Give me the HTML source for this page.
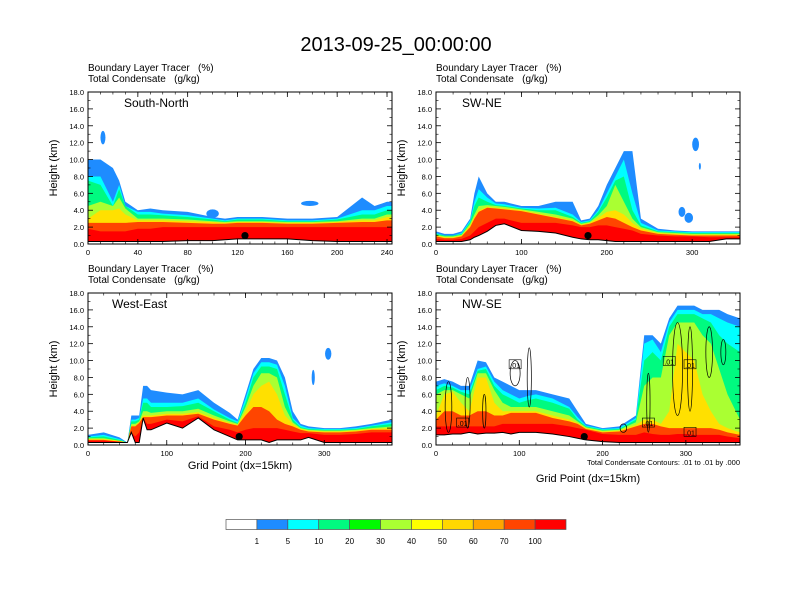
<!DOCTYPE html>
<html><head><meta charset="utf-8"><style>
body{margin:0;background:#fff;}
svg{display:block;font-family:"Liberation Sans",sans-serif;}
</style></head><body>
<svg id="fig" width="792" height="612" viewBox="0 0 792 612" xmlns="http://www.w3.org/2000/svg">
<text x="396" y="51" font-size="20" text-anchor="middle">2013-09-25_00:00:00</text>
</svg>
<script>
// ---- data (grid point, height km) ----
const levels=[1,5,10,30,50,70,100];
const levelColors=["#1E8CFF","#00FFFF","#00FA80","#AAFF32","#FFE000","#FF4500","#FF0000"];
const cbLabels=["1","5","10","20","30","40","50","60","70","100"];
const cbColors=["#FFFFFF","#1E8CFF","#00FFFF","#00FA80","#00FA00","#AAFF32","#FFFF00","#FFD700","#FFA500","#FF4500","#FF0000"];

const sn_x=[0,10,20,25,30,40,50,60,80,100,110,120,140,160,180,200,220,230,240,244];
const sn_ter=[0.3,0.3,0.3,0.3,0.3,0.3,0.3,0.3,0.4,0.4,0.5,0.6,0.6,0.6,0.4,0.3,0.3,0.3,0.3,0.3];
const sn_t1=[10,10,9,7.5,5,4,4.2,4,3.8,3.2,3,3.2,3.2,3,3,3.2,5.5,4.5,5,5];
const sn_t5=[8,8,5,7,4.5,3.8,3.8,3.6,3.4,3,2.8,3,3,2.8,2.8,3,4,4,4.5,4.5];
const sn_t10=[7.5,7,4.5,6.5,4.5,3.5,3.5,3.4,3.2,2.9,2.7,2.9,2.9,2.7,2.7,2.9,3.5,3.5,4,4];
const sn_t30=[4.5,5,4.5,5.5,4.2,3,3,3,2.9,2.7,2.6,2.7,2.7,2.6,2.6,2.7,3,3,3.5,3.5];
const sn_t50=[3,4,4,4.2,3.5,2.8,2.8,2.8,2.7,2.6,2.5,2.6,2.6,2.5,2.5,2.6,2.8,2.8,3.2,3.2];
const sn_t70=[2.5,2.5,2.5,2.5,2.5,2.6,2.6,2.6,2.5,2.4,2.4,2.5,2.5,2.4,2.4,2.5,2.6,2.6,2.8,2.8];
const sn_t100=[1.8,1.5,1.5,1.5,1.5,1.8,1.8,2,2,2,2,2,2,2,2,2,2,2,2,2];
const sn_blobX=[12,100,178], sn_blobY=[12.6,3.6,4.8], sn_blobRX=[2,5,7], sn_blobRY=[0.8,0.5,0.3];

const sw_x=[0,10,20,30,40,45,50,60,70,80,100,120,140,160,170,180,190,200,210,220,230,240,260,280,300,320,340,356];
const sw_ter=[0.3,0.3,0.3,0.3,0.5,0.8,1,1.5,2.2,2.4,1.6,1.5,1.3,0.8,0.6,0.5,0.5,0.4,0.3,0.3,0.3,0.3,0.3,0.3,0.3,0.3,0.6,0.6];
const sw_t1=[1.5,1.2,1.2,1.5,3,6,8,6,5,5,4.5,4.5,5,5,2.8,3,4.5,7,9,11,11,3,1.8,1.6,1.5,1.5,1.5,1.5];
const sw_t5=[1.3,1,1,1.3,2.8,5,6.5,5.5,4.8,4.7,4.3,4.2,4.3,3.5,2.6,2.8,4,6,8,10,6,2.5,1.6,1.5,1.4,1.4,1.4,1.4];
const sw_t10=[1.2,1,1,1.2,2.6,4.5,5.5,5,4.6,4.5,4.2,4,4,3.2,2.5,2.7,3.8,5.5,7.5,8,4,2.2,1.5,1.4,1.3,1.3,1.3,1.3];
const sw_t30=[1.1,0.9,0.9,1.1,2.4,3.5,4.5,4.6,4.5,4.4,4.1,3.8,3.5,3,2.4,2.6,3.4,4.5,7,5,3,2,1.4,1.3,1.2,1.2,1.2,1.2];
const sw_t50=[1,0.8,0.8,1,2.2,3.2,4,4.4,4.3,4.2,4,3.6,3.2,2.8,2.3,2.5,3.1,3.8,4,3.5,2.5,1.8,1.3,1.2,1.1,1.1,1.1,1.1];
const sw_t70=[0.9,0.7,0.7,0.9,2,3,3.8,4.3,4.2,4.1,3.9,3.5,3.1,2.7,2.2,2.4,2.8,3.2,3,2.5,2,1.6,1.2,1.1,1,1,1,1];
const sw_t100=[0.6,0.5,0.5,0.6,1,1.5,2,2.5,3,3,2.5,2.5,2.5,2.2,2,2,2.2,2.2,2,1.8,1.6,1.2,1,0.9,0.9,0.8,0.8,0.8];
const sw_blobX=[304,309,288,296], sw_blobY=[11.8,9.2,3.8,3.1], sw_blobRX=[4,1.2,4,5], sw_blobRY=[0.8,0.4,0.6,0.6];

const we_x=[0,20,40,50,55,60,65,70,75,80,100,120,140,160,180,190,200,210,220,230,240,250,260,270,280,300,320,340,360,386];
const we_ter=[0.3,0.3,0.3,0.3,1.5,0.3,0.3,3.2,1.8,1.8,2.6,2,3.2,1.8,1,0.6,0.6,0.6,0.6,0.3,0.6,0.6,0.6,0.6,0.9,0.3,0.3,0.3,0.3,0.3];
const we_t1=[1.2,1.5,0.9,0.3,3.5,3.5,3.5,7,7,6.5,6.2,6,6.5,5,3.8,3,6,9,10.3,10.3,10,8,4,2.5,2.2,2,2,2.2,2.5,3];
const we_t5=[1,1.2,0.7,0.3,3,3,3.2,5.5,5.5,5,5,5,5.5,4.2,3.2,2.8,5.5,8.5,9.8,9.8,9.5,7,3.2,2.3,2,1.9,1.9,2,2.3,2.7];
const we_t10=[0.9,1,0.6,0.3,2.8,2.8,3,5,5,4.5,4.5,4.6,5,4,3,2.6,5,8,9.3,9.3,9,6,3,2.1,1.9,1.8,1.8,1.9,2.2,2.5];
const we_t30=[0.8,0.8,0.5,0.3,2.5,2.5,2.8,4,4,3.8,4,4,4.3,3.5,2.8,2.5,4.5,7,8.5,8.5,8,4.5,2.7,2,1.8,1.7,1.7,1.8,2,2.2];
const we_t50=[0.7,0.7,0.5,0.3,2.3,2.3,2.7,3.5,3.5,3.5,3.7,3.7,3.9,3.2,2.6,2.4,4,6,7,7.5,6,3.5,2.5,1.9,1.7,1.6,1.6,1.7,1.9,2];
const we_t70=[0.6,0.6,0.4,0.3,2.2,2.2,2.6,3.3,3.3,3.3,3.5,3.5,3.7,3,2.5,2.3,3.5,4.5,4.5,4,3,2.5,2.2,1.8,1.6,1.5,1.5,1.6,1.8,1.8];
const we_t100=[0.5,0.5,0.4,0.3,1.5,1,1.5,3.2,2.5,2.5,3,2.8,3.4,2.2,1.8,1.5,1.8,2,2,2,2,1.8,1.6,1.4,1.4,1.2,1.2,1.3,1.5,1.5];
const we_blobX=[305,286], we_blobY=[10.8,8], we_blobRX=[4,2], we_blobRY=[0.7,0.9];

const ns_x=[0,10,20,30,40,50,60,70,80,90,100,110,120,140,160,170,180,200,220,240,250,260,270,280,290,300,310,320,330,340,350,365];
const ns_ter=[1.2,1.2,1.3,1.3,1.5,1.3,1.4,1.4,1.5,1.3,1.5,1.5,1.5,1.3,1,0.8,0.6,0.4,0.3,0.3,0.3,0.3,0.3,0.3,0.3,0.3,0.3,0.3,0.3,0.3,0.3,0.3];
const ns_t1=[7.5,7.8,7.5,7,7,10,9.8,8,7.5,7,6.5,6.5,6.5,6,5.5,4,2.5,2,2.2,3.5,13,13,12,15,16.5,16.5,16.5,16,16,16,15.5,15];
const ns_t5=[7,7.3,7,6.5,6.5,9,9.3,7.5,6.5,6,5.5,5.8,6,5.5,4.5,3.3,2.3,1.9,2,3.2,12,12.5,11,14.5,16,16,16,15.5,15.5,15,14.5,14];
const ns_t10=[6.5,7,6.8,6.3,6,8.8,9,7,6,5.5,5,5.3,5.5,5,4.3,3,2.2,1.8,1.9,3,10,11,10,14,15.5,15.5,15.5,15,14.5,13,12,11];
const ns_t30=[6,6.5,6.5,6,5.5,8.5,8.5,6.5,5,4.5,4.5,4.5,4.5,4,3.5,2.8,2.1,1.7,1.8,2.7,7,8,8,13,14.5,14.5,14.5,13,12,9,6,3];
const ns_t50=[3.5,6,6.3,5,4,8,8,5,4,4,4,4,4,3.5,3,2.6,2,1.6,1.7,2.4,3,3,2.5,4,12,11,10,6,4,2.5,2,1.5];
const ns_t70=[3,4,4,3.5,3.5,4,4,3.5,3.5,3.8,3.8,3.8,3.8,3.2,2.8,2.5,1.9,1.5,1.6,2.2,2.5,2.5,2.2,2,2,2,2,2,2,1.8,1.5,1.2];
const ns_t100=[2.2,2.2,2.2,2.2,2.2,2.2,2.2,2.2,2.5,2.5,2.5,2.5,2.5,2.5,2.2,2,1.8,1.3,1.2,1.2,1.5,1.3,1.2,1.2,1.3,1.3,1.2,1.2,1.2,1.2,1,0.8];
const ns_blobX=[], ns_blobY=[], ns_blobRX=[], ns_blobRY=[];
// condensate contour ellipses (NW-SE)
const ns_cX=[15,38,58,95,112,225,255,290,305,328,345];
const ns_cY=[4.5,5,4,8.5,8,2,5,9,9,11,11];
const ns_cRX=[4,3,2,6,2.5,4,2,6,3,4,3];
const ns_cRY=[3,3,2,1.5,3.5,0.5,3.5,5.5,5,3,1.5];
const ns_lblX=[32,95,255,280,305,305], ns_lblY=[2.6,9.5,2.6,9.9,9.5,1.5];

const panels=[
 {name:"south-north",title:"South-North",x0:88,y0:92,xmax:244,ticks:[0,40,80,120,160,200,240],minor:10,xs:sn_x,ter:sn_ter,tops:[sn_t1,sn_t5,sn_t10,sn_t30,sn_t50,sn_t70,sn_t100],bx:sn_blobX,by:sn_blobY,brx:sn_blobRX,bry:sn_blobRY,dot:126,xt:false},
 {name:"sw-ne",title:"SW-NE",x0:436,y0:92,xmax:356,ticks:[0,100,200,300],minor:20,xs:sw_x,ter:sw_ter,tops:[sw_t1,sw_t5,sw_t10,sw_t30,sw_t50,sw_t70,sw_t100],bx:sw_blobX,by:sw_blobY,brx:sw_blobRX,bry:sw_blobRY,dot:178,xt:false},
 {name:"west-east",title:"West-East",x0:88,y0:293,xmax:386,ticks:[0,100,200,300],minor:20,xs:we_x,ter:we_ter,tops:[we_t1,we_t5,we_t10,we_t30,we_t50,we_t70,we_t100],bx:we_blobX,by:we_blobY,brx:we_blobRX,bry:we_blobRY,dot:192,xt:465},
 {name:"nw-se",title:"NW-SE",x0:436,y0:293,xmax:365,ticks:[0,100,200,300],minor:20,xs:ns_x,ter:ns_ter,tops:[ns_t1,ns_t5,ns_t10,ns_t30,ns_t50,ns_t70,ns_t100],bx:ns_blobX,by:ns_blobY,brx:ns_blobRX,bry:ns_blobRY,dot:178,xt:478,contours:true}
];
const W=304,H=152,YMAX=18;
const svg=document.getElementById('fig');
const NS="http://www.w3.org/2000/svg";
function mk(tag,attrs,parent,txt){const e=document.createElementNS(NS,tag);for(const k in attrs)e.setAttribute(k,attrs[k]);if(txt!==undefined)e.textContent=txt;(parent||svg).appendChild(e);return e;}

panels.forEach(p=>{
 const sx=v=>p.x0+v/p.xmax*W, sy=h=>p.y0+H-h/YMAX*H;
 const g=mk('g',{});
 
 
 const s1=mk('text',{x:p.x0,y:p.y0-21,'font-size':10},g,'Boundary Layer Tracer   (%)');
 
 
 s1.style.whiteSpace='pre';
 const s2=mk('text',{x:p.x0,y:p.y0-10,'font-size':10},g,'Total Condensate   (g/kg)');
 
 
 s2.style.whiteSpace='pre';
 const cid='clip-'+p.name;
 const cp=mk('clipPath',{id:cid},g);mk('rect',{x:p.x0,y:p.y0,width:W,height:H},cp);
 const plot=mk('g',{'clip-path':'url(#'+cid+')'},g);
 const back=p.xs.map((x,i)=>sx(x)+','+sy(p.ter[i])).reverse().join(' ');
 p.bx.forEach((bx,i)=>{
  const b=mk('ellipse',{cx:sx(bx),cy:sy(p.by[i]),rx:p.brx[i]/p.xmax*W,ry:p.bry[i]/YMAX*H,fill:levelColors[0]},plot);
  
  
 });
 p.tops.forEach((top,li)=>{
  const pts=p.xs.map((x,i)=>sx(x)+','+sy(Math.max(top[i],p.ter[i]))).join(' ')+' '+back;
  const poly=mk('polygon',{points:pts,fill:levelColors[li]},plot);
  
  
 });
 if(p.contours){
  ns_cX.forEach((cx,i)=>{
   const c=mk('ellipse',{cx:sx(cx),cy:sy(ns_cY[i]),rx:ns_cRX[i]/p.xmax*W,ry:ns_cRY[i]/YMAX*H,fill:'none',stroke:'#000','stroke-width':0.7},plot);
   
   
  });
  ns_lblX.forEach((lx,i)=>{
   const r=mk('rect',{x:sx(lx)-6,y:sy(ns_lblY[i])-5,width:12,height:9,fill:'none',stroke:'#000','stroke-width':0.6},plot);
   
   
   const t=mk('text',{x:sx(lx),y:sy(ns_lblY[i])+3,'font-size':7,'text-anchor':'middle'},plot,'.01');
   
   
  });
 }
 const tl=mk('polyline',{points:p.xs.map((x,i)=>sx(x)+','+sy(p.ter[i])).join(' '),fill:'none',stroke:'#000','stroke-width':1},plot);
 
 
 const dot=mk('circle',{cx:sx(p.dot),cy:sy(1.0),r:3.6,fill:'#000'},plot);
 
 
 const fr=mk('rect',{x:p.x0,y:p.y0,width:W,height:H,fill:'none',stroke:'#000','stroke-width':1},g);
 
 
 const pt=mk('text',{x:p.x0+(p.name==='south-north'?36:p.name==='west-east'?24:26),y:p.y0+15,'font-size':12},g,p.title);
 
 
 for(let h=0;h<=YMAX;h+=2){
  const y=sy(h);
  mk('line',{x1:p.x0,x2:p.x0+5,y1:y,y2:y,stroke:'#000','stroke-width':0.8},g);
  mk('line',{x1:p.x0+W,x2:p.x0+W-5,y1:y,y2:y,stroke:'#000','stroke-width':0.8},g);
  const t=mk('text',{x:p.x0-4,y:y+3,'font-size':7.5,'text-anchor':'end'},g,h.toFixed(1));
  
  
 }
 for(let h=1;h<YMAX;h+=2){const y=sy(h);
  mk('line',{x1:p.x0,x2:p.x0+2.5,y1:y,y2:y,stroke:'#000','stroke-width':0.6},g);
  mk('line',{x1:p.x0+W,x2:p.x0+W-2.5,y1:y,y2:y,stroke:'#000','stroke-width':0.6},g);}
 const yt=mk('text',{x:0,y:0,'font-size':11,'text-anchor':'middle',transform:'translate('+(p.x0-31)+','+(p.y0+H/2)+') rotate(-90)'},g,'Height (km)');
 
 
 for(let v=0;v<=p.xmax;v+=p.minor){const x=sx(v);
  mk('line',{x1:x,x2:x,y1:p.y0+H,y2:p.y0+H-2.5,stroke:'#000','stroke-width':0.6},g);
  mk('line',{x1:x,x2:x,y1:p.y0,y2:p.y0+2.5,stroke:'#000','stroke-width':0.6},g);}
 p.ticks.forEach(v=>{const x=sx(v);
  mk('line',{x1:x,x2:x,y1:p.y0+H,y2:p.y0+H-5,stroke:'#000','stroke-width':0.8},g);
  mk('line',{x1:x,x2:x,y1:p.y0,y2:p.y0+5,stroke:'#000','stroke-width':0.8},g);
  const t=mk('text',{x:x,y:p.y0+H+11,'font-size':7.5,'text-anchor':'middle'},g,String(v));
  
  
 });
 if(p.xt){const t=mk('text',{x:p.x0+W/2,y:p.xt+4,'font-size':11,'text-anchor':'middle'},g,'Grid Point (dx=15km)');
  
  }
 if(p.contours){const t=mk('text',{x:p.x0+W,y:p.y0+H+20,'font-size':7.5,'text-anchor':'end'},g,'Total Condensate Contours: .01 to .01 by .000');
  
  }
});
const cb=mk('g',{});


const cbx=226,cbw=340/cbColors.length;
cbColors.forEach((c,i)=>{
 const r=mk('rect',{x:cbx+i*cbw,y:519.5,width:cbw,height:10,fill:c,stroke:'#555','stroke-width':0.7},cb);
 
 
});
cbLabels.forEach((l,i)=>{
 const t=mk('text',{x:cbx+(i+1)*cbw,y:544,'font-size':8,'text-anchor':'middle'},cb,l);
 
 
});
</script>
</body></html>
